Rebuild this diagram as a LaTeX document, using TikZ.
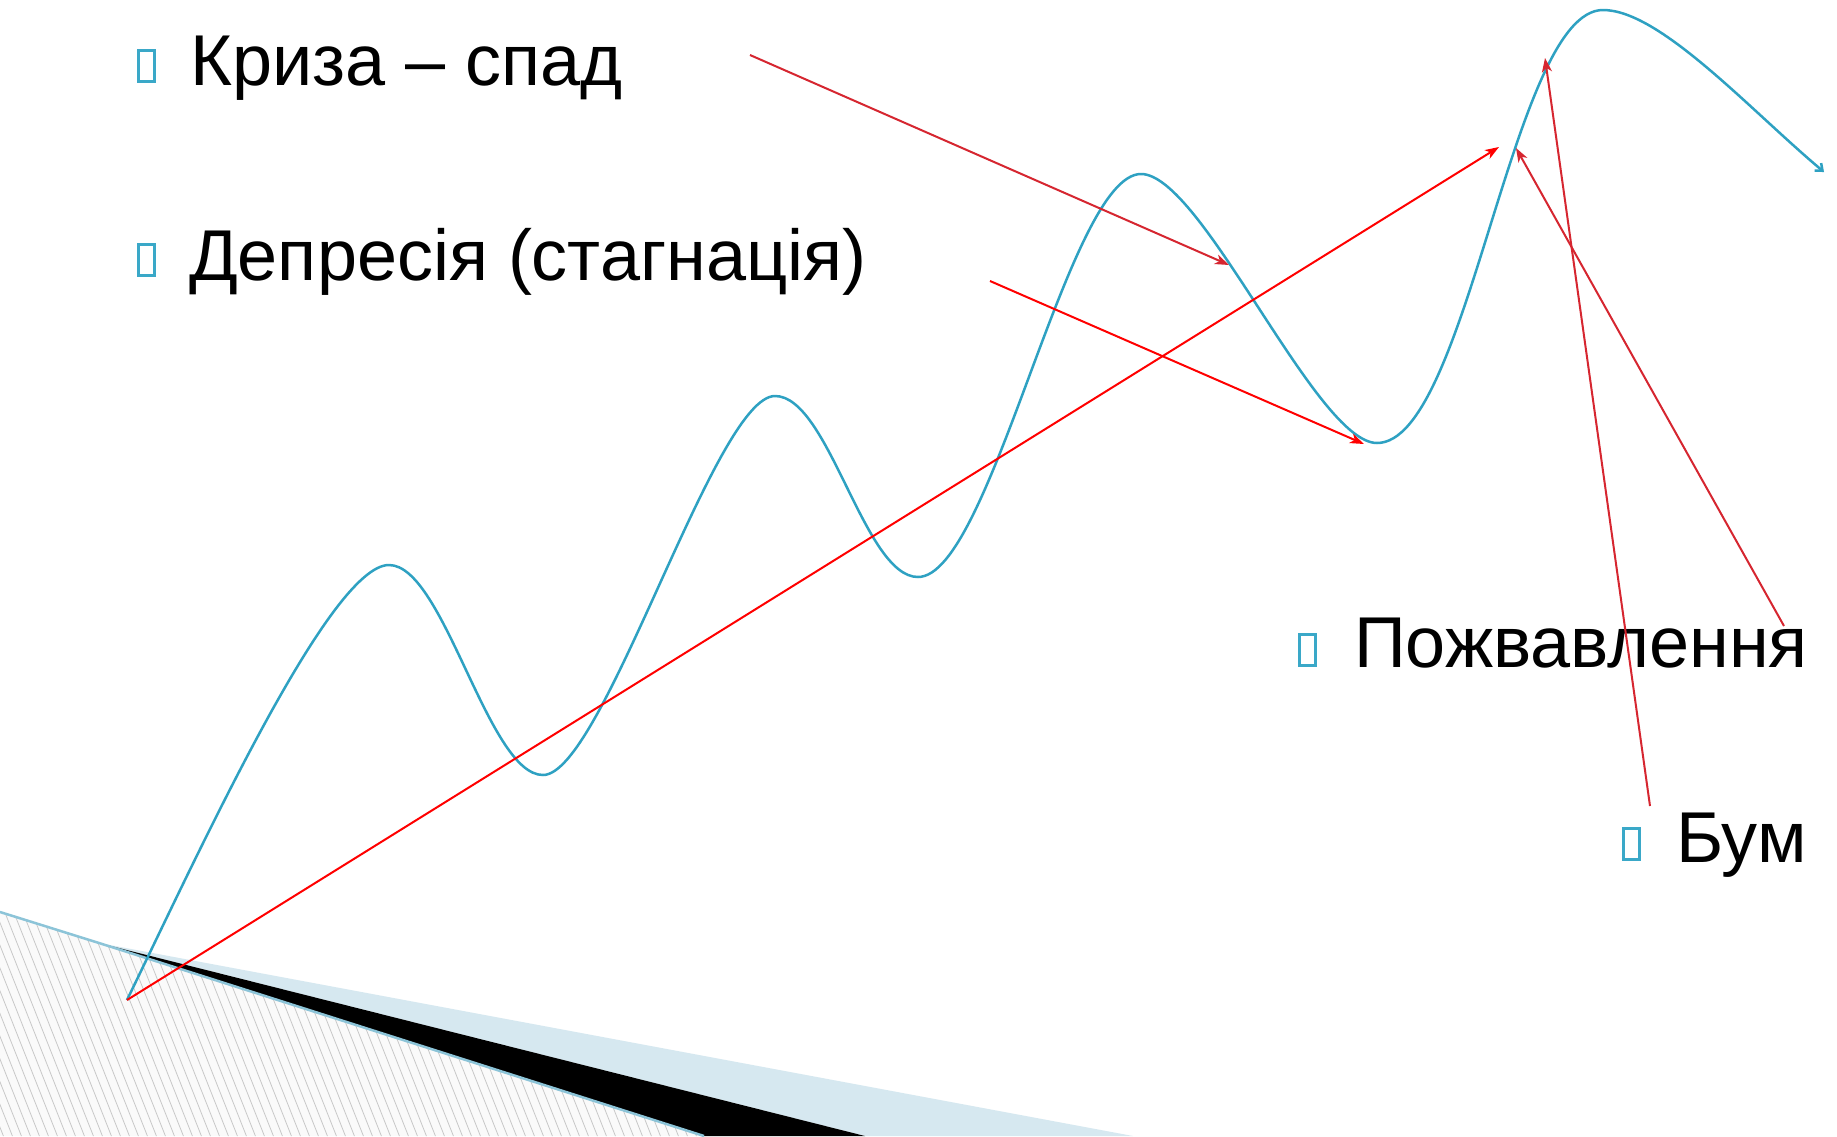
\documentclass[tikz,border=0pt]{standalone}
\usepackage{fontspec}
\setmainfont{Liberation Sans}
\usetikzlibrary{arrows.meta}
\definecolor{curveblue}{RGB}{46,161,194}
\definecolor{bulletblue}{RGB}{58,168,200}
\definecolor{darkred}{RGB}{214,38,48}
\definecolor{bandblue}{RGB}{214,232,240}
\definecolor{edgeblue}{RGB}{140,196,216}
\definecolor{hatchgray}{RGB}{200,200,200}
\tikzset{
  label/.style={anchor=base west, inner sep=0pt, font=\fontsize{72}{80}\selectfont},
  bulletbox/.style={draw=bulletblue, line width=3pt, minimum width=16pt, minimum height=31pt, inner sep=0pt},
  redarrow/.style={draw=red, line width=2pt, -{Stealth[length=14pt,width=10pt,inset=4pt]}},
  darkarrow/.style={draw=darkred, line width=2pt, -{Stealth[length=14pt,width=10pt,inset=4pt]}},
}
\begin{document}
\begin{tikzpicture}[x=1pt,y=-1pt]
\useasboundingbox (0,0) rectangle (1837,1136);
\fill[white] (0,0) rectangle (1837,1136);

% bottom-left decoration: hatched region
\begin{scope}
  \clip (0,912) -- (99,943) -- (704,1136) -- (0,1136) -- cycle;
  \fill[black!2] (0,900) rectangle (720,1136);
  \foreach \i in {-40,...,80} {
    \draw[hatchgray, line width=0.8pt] ({\i*9},900) -- ({\i*9+95},1140);
  }
\end{scope}
\fill[bandblue] (99,943) -- (1133,1136) -- (865,1136) -- cycle;
\fill[black] (99,943) -- (865,1136) -- (704,1136) -- cycle;
\draw[edgeblue, line width=2.5pt] (0,912) -- (99,943) -- (704,1136);

% the business-cycle curve
\draw[curveblue, line width=2.5pt, -{Straight Barb[length=6pt,width=10pt]}]
  (127,1000) .. controls (200,850) and (330,565) .. (389,565)
  .. controls (444,565) and (488,775) .. (543,775)
  .. controls (603,775) and (715,396) .. (775,396)
  .. controls (829,396) and (864,577) .. (918,577)
  .. controls (991,577) and (1068,174) .. (1141,174)
  .. controls (1202,174) and (1316,443) .. (1377,443)
  .. controls (1468,443) and (1512,10) .. (1603,10)
  .. controls (1660,10) and (1750,110) .. (1824,172);

% bullets and labels
\node[bulletbox] (b1) at (146.5,66) {};
\node[label] (kryza) at (190,85) {Криза – спад};
\node[bulletbox] (b2) at (146.5,260) {};
\node[label] (depr) at (189,280) {Депресія (стагнація)};
\node[bulletbox] (b3) at (1307.5,649.5) {};
\node[label] (pozhv) at (1354,667) {Пожвавлення};
\node[bulletbox] (b4) at (1631,843.5) {};
\node[label] (bum) at (1676,862) {Бум};

% arrow end points
\coordinate (origin) at (127,1000);
\coordinate (trendtip) at (1499,147);
\coordinate (kstart) at (750,55);
\coordinate (ktip) at (1229,265);
\coordinate (dstart) at (990,281);
\coordinate (dtip) at (1364,444);
\coordinate (pstart) at (1784,626);
\coordinate (ptip) at (1516,148);
\coordinate (bstart) at (1650,806);
\coordinate (btip) at (1545,58);

\draw[redarrow] (origin) -- (trendtip);
\draw[darkarrow] (kstart) -- (ktip);
\draw[redarrow] (dstart) -- (dtip);
\draw[darkarrow] (pstart) -- (ptip);
\draw[darkarrow] (bstart) -- (btip);
\end{tikzpicture}
\end{document}
